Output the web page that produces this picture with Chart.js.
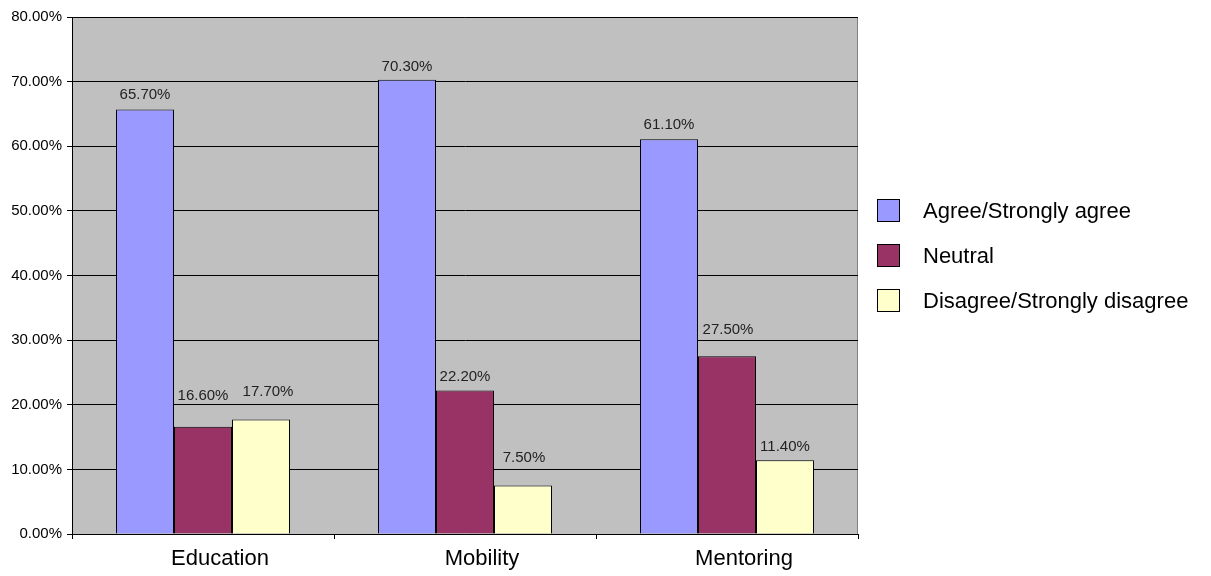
<!DOCTYPE html>
<html>
<head>
<meta charset="utf-8">
<script src="https://cdn.jsdelivr.net/npm/chart.js@4"></script>
<style>
  html, body { margin: 0; padding: 0; background: #fff; }
  #wrap { width: 1211px; height: 576px; }
</style>
</head>
<body>
<div id="wrap"><canvas id="chart" width="1211" height="576"></canvas></div>
<script>
const categories = ["Education", "Mobility", "Mentoring"];
const agree = [65.7, 70.3, 61.1];
const neutral = [16.6, 22.2, 27.5];
const disagree = [17.7, 7.5, 11.4];
const seriesNames = ["Agree/Strongly agree", "Neutral", "Disagree/Strongly disagree"];
const seriesColors = ["#9999FF", "#993366", "#FFFFCC"];

const FONT = "Arial, 'Liberation Sans', sans-serif";

// label gaps above each bar (px), per series, like the hand placed labels of the original
const labelGap = [[10, 9, 10], [27, 10, 22], [24, 24, 9]];
const labelDx = [[0, 0, 0], [0, 0, 1], [7, 1, 0]];

// grey plot background + border
const plotBg = {
  id: "plotBg",
  beforeDraw(chart) {
    const { ctx, chartArea: a } = chart;
    ctx.save();
    ctx.fillStyle = "#C0C0C0";
    ctx.fillRect(a.left, a.top, a.right - a.left, a.bottom - a.top);
    ctx.strokeStyle = "#808080";
    ctx.lineWidth = 1;
    ctx.beginPath();
    ctx.moveTo(a.left, a.top + 0.5);
    ctx.lineTo(a.right - 0.5, a.top + 0.5);
    ctx.lineTo(a.right - 0.5, a.bottom);
    ctx.stroke();
    ctx.restore();
  }
};

// value labels above bars
const barLabels = {
  id: "barLabels",
  afterDatasetsDraw(chart) {
    const ctx = chart.ctx;
    ctx.save();
    ctx.font = "15px " + FONT;
    ctx.fillStyle = "#222";
    ctx.textAlign = "center";
    ctx.textBaseline = "alphabetic";
    chart.data.datasets.forEach((ds, i) => {
      chart.getDatasetMeta(i).data.forEach((bar, j) => {
        ctx.fillText(ds.data[j].toFixed(2) + "%", bar.x + labelDx[i][j], bar.y - labelGap[i][j]);
      });
    });
    ctx.restore();
  }
};

// legend at the right
const sideLegend = {
  id: "sideLegend",
  afterDraw(chart) {
    const ctx = chart.ctx;
    ctx.save();
    ctx.font = "22px " + FONT;
    ctx.textBaseline = "middle";
    ctx.textAlign = "left";
    chart.data.datasets.forEach((ds, i) => {
      const cy = 211 + i * 45;
      ctx.fillStyle = ds.backgroundColor;
      ctx.fillRect(877.5, cy - 11.5, 22, 22);
      ctx.strokeStyle = "#000";
      ctx.lineWidth = 1;
      ctx.strokeRect(877.5, cy - 11.5, 22, 22);
      ctx.fillStyle = "#000";
      ctx.fillText(ds.label, 923, cy + 1);
    });
    ctx.restore();
  }
};

const datasets = [agree, neutral, disagree].map((d, i) => ({
  label: seriesNames[i],
  data: d,
  backgroundColor: seriesColors[i],
  borderColor: "#000",
  borderWidth: 1,
  categoryPercentage: 0.664,
  barPercentage: 1.0
}));

new Chart(document.getElementById("chart"), {
  type: "bar",
  data: { labels: categories, datasets },
  options: {
    responsive: false,
    animation: false,
    layout: { padding: { top: 17, right: 353, left: 0, bottom: 0 } },
    plugins: { legend: { display: false }, tooltip: { enabled: false } },
    scales: {
      x: {
        afterFit(s) { s.height = 42; },
        grid: { offset: true, drawOnChartArea: false, drawTicks: true, tickLength: 5, color: "#000" },
        border: { color: "#000", width: 1 },
        ticks: { color: "#000", font: { size: 22, family: FONT }, padding: 7, labelOffset: 17 }
      },
      y: {
        min: 0,
        max: 80,
        afterFit(s) { s.width = 72; },
        grid: { color: "#000", tickLength: 5, drawTicks: true },
        border: { color: "#000", width: 1 },
        ticks: {
          stepSize: 10,
          color: "#000",
          font: { size: 15, family: FONT },
          padding: 5,
          callback: (v) => v.toFixed(2) + "%"
        }
      }
    }
  },
  plugins: [plotBg, barLabels, sideLegend]
});
</script>
</body>
</html>
